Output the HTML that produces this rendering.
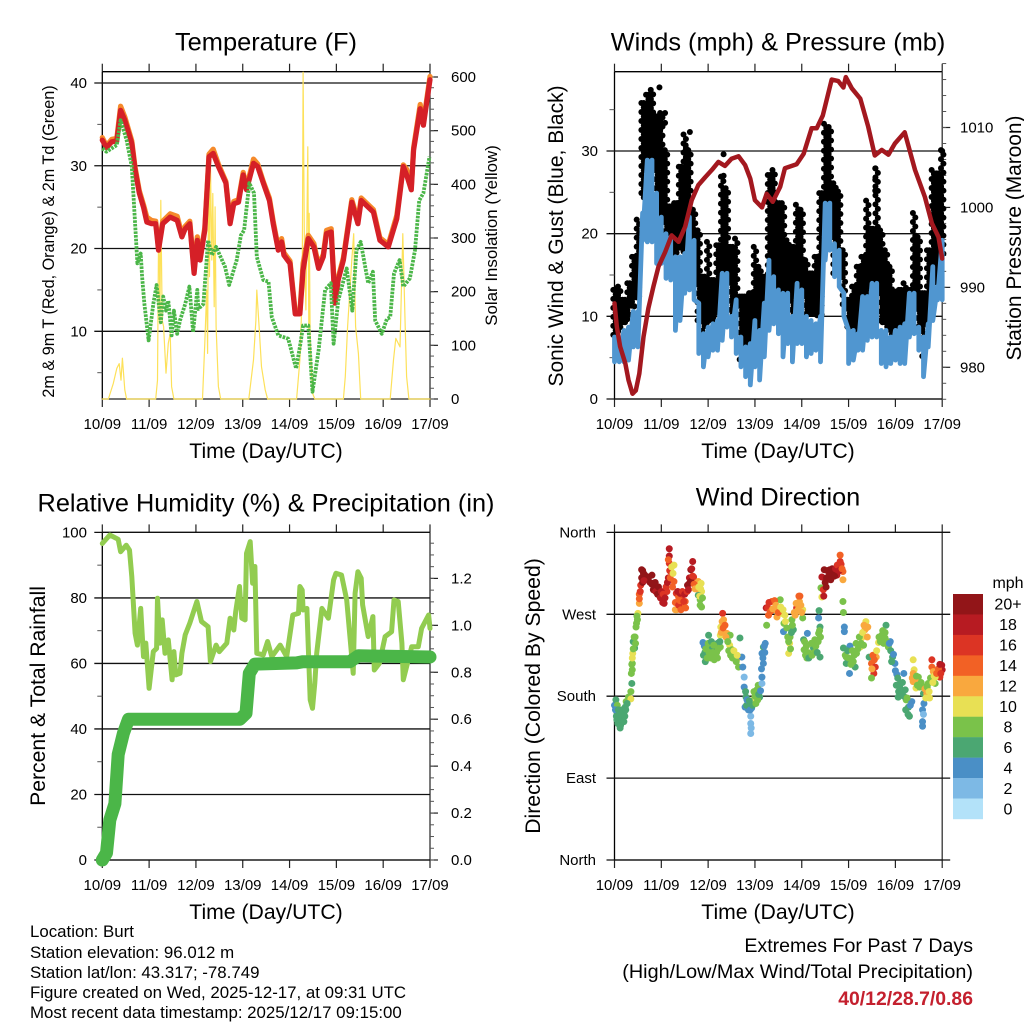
<!DOCTYPE html>
<html lang="en">
<head>
<meta charset="utf-8">
<title>Station Meteogram</title>
<style>
html,body{margin:0;padding:0;background:#fff}
svg{display:block;font-family:"Liberation Sans",sans-serif}
text{fill:#000}
</style>
</head>
<body>
<svg id="chart" width="1024" height="1024" viewBox="0 0 1024 1024" xmlns="http://www.w3.org/2000/svg">
<rect width="1024" height="1024" fill="#fff"/>
<text x="266" y="50.5" font-size="25.4" text-anchor="middle">Temperature (F)</text>
<text x="778" y="50.5" font-size="25.3" text-anchor="middle">Winds (mph) &amp; Pressure (mb)</text>
<text x="266" y="511.5" font-size="25.3" text-anchor="middle">Relative Humidity (%) &amp; Precipitation (in)</text>
<text x="778" y="505.5" font-size="25.3" text-anchor="middle">Wind Direction</text>

<text x="266" y="458" font-size="21.2" text-anchor="middle">Time (Day/UTC)</text>
<text x="778" y="458" font-size="21.2" text-anchor="middle">Time (Day/UTC)</text>
<text x="266" y="919" font-size="21.2" text-anchor="middle">Time (Day/UTC)</text>
<text x="778" y="919" font-size="21.2" text-anchor="middle">Time (Day/UTC)</text>

<text transform="translate(54 241.5) rotate(-90)" font-size="16.2" text-anchor="middle">2m &amp; 9m T (Red, Orange) &amp; 2m Td (Green)</text>
<text transform="translate(497 235.5) rotate(-90)" font-size="16.9" text-anchor="middle">Solar Insolation (Yellow)</text>
<text transform="translate(563 236) rotate(-90)" font-size="21" text-anchor="middle">Sonic Wind &amp; Gust (Blue, Black)</text>
<text transform="translate(1021 238) rotate(-90)" font-size="20.9" text-anchor="middle">Station Pressure (Maroon)</text>
<text transform="translate(45 696) rotate(-90)" font-size="21.2" text-anchor="middle">Percent &amp; Total Rainfall</text>
<text transform="translate(540 696) rotate(-90)" font-size="21.2" text-anchor="middle">Direction (Colored By Speed)</text>

<text x="30" y="937" font-size="16.85">Location: Burt</text>
<text x="30" y="958" font-size="16.85">Station elevation: 96.012 m</text>
<text x="30" y="978" font-size="16.85">Station lat/lon: 43.317; -78.749</text>
<text x="30" y="998" font-size="16.85">Figure created on Wed, 2025-12-17, at 09:31 UTC</text>
<text x="30" y="1018" font-size="16.85">Most recent data timestamp: 2025/12/17 09:15:00</text>

<text x="973" y="952" font-size="19.6" text-anchor="end">Extremes For Past 7 Days</text>
<text x="973" y="978" font-size="19.8" text-anchor="end">(High/Low/Max Wind/Total Precipitation)</text>
<text x="973" y="1005" font-size="19.4" font-weight="bold" text-anchor="end" style="fill:#c4202e">40/12/28.7/0.86</text>

<text x="1008" y="588" font-size="16" text-anchor="middle">mph</text>
</svg>
<script>
const dayLabels = ['10/09','11/09','12/09','13/09','14/09','15/09','16/09','17/09'];

const tempTimes = [0,.09,.2,.31,.39,.48,.63,.7,.79,.88,.95,1.05,1.14,1.2,1.29,1.45,1.6,1.7,1.77,1.87,1.96,2.03,2.09,2.19,2.28,2.37,2.48,2.64,2.73,2.81,2.91,3.01,3.08,3.23,3.32,3.44,3.57,3.65,3.76,3.83,3.88,4.01,4.12,4.22,4.29,4.4,4.52,4.62,4.72,4.79,4.89,4.97,5.04,5.15,5.33,5.46,5.53,5.79,5.93,6.11,6.29,6.43,6.5,6.6,6.65,6.79,6.86,7];
const temp2m = [33.1,32.2,32.9,33,36.7,35.5,32.7,29.5,26.7,25,23.2,23,23,19.8,23,23.8,23.4,21.4,22.4,23,17,21,18.6,22.2,31.1,31.5,29.9,27.9,23,25.4,25.6,28.9,27.1,30.3,29.9,27.9,25.8,23,19.8,20.8,19.2,18.2,12.1,12.1,17.4,21.2,20.2,17.6,19,21.8,22,13.4,16.2,18.6,25.6,23,25.8,24.4,21,20.2,23.6,29.9,28.9,27.1,31.9,36.9,34.9,40.4];
const temp9m = [33.4,32.4,33.2,33.3,37.2,35.9,33,29.8,27,25.3,23.8,23.4,23.3,20.1,23.3,24.2,23.9,21.7,22.7,23.3,17.3,21.4,18.9,22.5,31.4,32,30.2,28.1,23.3,25.7,25.9,29.2,27.4,30.8,30.2,28.1,26.1,23.3,20.1,21.2,19.5,18.5,12.4,12.4,18.2,21.6,20.6,17.9,19.3,22.2,22.4,13.7,16.5,18.9,25.9,23.4,26.1,24.7,21.3,20.5,24,30.1,29.6,27.4,32.2,37.4,35.2,40.8];
const dewTimes = [0,.09,.31,.39,.52,.63,.7,.75,.82,.85,.9,.99,1.09,1.16,1.25,1.3,1.36,1.41,1.48,1.53,1.6,1.66,1.77,1.86,1.94,2.03,2.05,2.16,2.26,2.34,2.43,2.62,2.71,2.87,2.96,3.03,3.14,3.24,3.3,3.44,3.55,3.62,3.76,3.97,4.14,4.22,4.29,4.4,4.49,4.62,4.76,4.88,4.94,5.04,5.22,5.34,5.43,5.52,5.68,5.78,5.83,5.97,6.08,6.15,6.23,6.35,6.43,6.57,6.68,6.77,6.86,6.99];
const dewValues = [32.1,31.7,32.5,35.5,33.1,29.9,23,18.2,19.4,16.6,13.3,8.9,13.3,15.6,11.1,14.2,12.5,13.7,9.5,12.5,9.7,11.3,13.3,15.4,9.9,15,12.7,13.3,21,19.2,20.2,17.8,15.6,18.6,21.6,22.2,27.9,26.7,19,16.2,16,11.7,9.5,9.1,5.5,8.1,10.7,10.7,2.7,7.7,15,15.8,8.5,13.7,17.6,12.5,19.8,20.8,15.8,17.2,11.3,9.7,11.5,11.7,17,18.6,15.4,16.4,19.8,25.8,26.7,31.1];
const solarTimes = [0,.13,.235,.31,.36,.4,.43,.48,.52,1.14,1.18,1.2,1.22,1.23,1.25,1.28,1.31,1.36,1.41,1.45,1.48,1.53,2.14,2.19,2.23,2.25,2.27,2.29,2.31,2.34,2.36,2.39,2.41,2.43,2.48,2.53,3.13,3.23,3.28,3.3,3.35,3.4,3.48,3.53,4.15,4.22,4.27,4.29,4.32,4.35,4.39,4.41,4.42,4.44,4.49,4.54,5.15,5.19,5.24,5.33,5.37,5.41,5.47,5.52,6.15,6.22,6.27,6.36,6.42,6.47,6.5,6.55,7];
const solarValues = [0,0,29,57,66,35,76,17,0,0,35,290,259,140,370,147,135,48,104,122,23,0,0,104,203,85,439,228,445,259,383,172,358,135,23,0,0,73,147,203,135,60,17,0,0,73,197,609,259,166,470,130,346,104,11,0,0,42,135,259,308,135,85,0,0,73,113,97,308,135,42,0,0];

const windTimes = [0,.1,.2,.3,.4,.5,.6,.7,.8,.9,1,1.1,1.2,1.3,1.4,1.5,1.6,1.7,1.8,1.9,2,2.1,2.2,2.3,2.4,2.5,2.6,2.7,2.8,2.9,3,3.1,3.2,3.3,3.4,3.5,3.6,3.7,3.8,3.9,4,4.1,4.2,4.3,4.4,4.5,4.6,4.7,4.8,4.9,5,5.1,5.2,5.3,5.4,5.5,5.6,5.7,5.8,5.9,6,6.1,6.2,6.3,6.4,6.5,6.6,6.7,6.8,6.9,7];
const gustHigh = [13.2,13.6,12,14,17.2,21.7,35.8,36.8,37.4,34.2,34.6,30.1,23.3,23.7,28.1,32,30.1,22.9,20.4,14.8,19,14.4,18.6,26.9,25.5,18.4,19.4,12.4,12.4,12.8,18.4,16,14.8,27.1,27.7,23.7,23.7,19.2,18.4,23.5,22.9,16.8,15.2,17.2,24.9,33.3,32.9,26.1,25.1,18,12,13.6,16,17.2,24,20.6,27.9,20.4,18,16,13,13.2,14,13.2,22.5,19.6,12.8,18,27.7,27.3,30.1];
const gustLow = [7,8,9,9.5,11,12,24,28,28,20,21,20,15,15,18,17,18,14,9,8,9,9,10,13,14,10,11,4,4,5,8,6,10,14,13,13,12,12,10,12,12,10,10,10,10,20,20,15,15,11,8.5,8.5,8,10,11,13,13,9,8.5,7,7.5,7,8,10,11,8,5,9,14,13,17];
const gustExtraTimes = [.96,1.08,1.08,1.52,1.61,2.33,2.33,5.57,5.57,5.57,7];
const gustExtraValues = [37.7,34.6,33.4,30.7,32.3,29.6,27,27.9,26.5,25.2,30];
const sonicHigh = [7.5,7.1,8.3,8.7,10.6,10.6,22.5,28.9,28.9,24.9,22,20,19.6,17.2,17.2,17.6,22,19.2,11.6,7.9,8.7,9.1,9.5,15.2,15.2,10,12,7.5,6.3,6.7,9.5,8.3,11.6,16.8,14.8,13.2,12.8,12.8,10,14,13.2,10,9.5,9.1,10,23.7,23.7,18.8,18,12.8,8.3,8.3,7.9,12.4,12.4,14,14,8.3,8.3,7.5,8.3,8.7,9.1,12.8,12.8,8.7,7.5,9.1,16,13.6,19.2];
const sonicLow = [4.5,4.5,4.5,4.7,6.3,6.3,19.2,19,19,16.4,16.4,14.6,14.4,8.3,9.5,12.8,13.2,12,5.5,3.9,5.1,5.9,5.9,7.1,8.7,7.5,5.5,3.9,2.7,1.7,3.9,2.3,5.1,8.3,9.1,7.9,5.1,6.7,4.5,6.7,6.7,5.1,5.5,5.9,4.5,16.8,18,14.8,13.6,10,4.3,4.7,5.9,5.9,7.1,7.5,7.5,4.3,3.9,4.3,4.7,4.3,4.3,7.5,7.9,5.9,2.7,6.3,9.5,12,12];
const pressureTimes = [0,.05,.12,.23,.3,.385,.455,.53,.62,.725,.83,.94,1.08,1.22,1.37,1.51,1.65,1.79,1.94,2.08,2.22,2.36,2.5,2.65,2.79,2.9,3,3.15,3.25,3.38,3.54,3.64,3.89,4.04,4.21,4.32,4.45,4.64,4.78,4.89,4.94,5.07,5.25,5.42,5.56,5.71,5.85,5.99,6.2,6.42,6.63,6.78,6.92,7];
const pressureValues = [988,985.1,982.6,980.5,978.4,976.7,977.1,979.2,983.8,987.4,990.1,992.6,994.4,996.5,995.7,997.6,1000.9,1002.8,1003.8,1004.7,1005.7,1005.2,1006.1,1006.4,1005.3,1003.6,1000.9,1000,1001.7,1000.7,1002.6,1004.9,1005.4,1006.7,1009.9,1009.9,1011.5,1016,1015.8,1015,1016.3,1014.9,1013.6,1010.1,1006.5,1007.2,1006.6,1008,1009.4,1004.7,1001.3,998,996.3,993.6];

const humidityTimes = [0,.16,.34,.39,.51,.58,.63,.7,.75,.82,.88,.93,1,1.09,1.16,1.18,1.23,1.28,1.34,1.41,1.49,1.53,1.57,1.66,1.7,1.77,1.87,2.02,2.12,2.26,2.31,2.43,2.5,2.66,2.73,2.81,2.85,2.93,2.98,3.05,3.08,3.16,3.21,3.26,3.3,3.44,3.53,3.62,3.8,3.94,4.07,4.19,4.22,4.27,4.29,4.37,4.44,4.49,4.54,4.58,4.69,4.83,4.94,4.99,5.11,5.22,5.36,5.4,5.46,5.53,5.56,5.68,5.78,5.81,5.92,6.04,6.18,6.23,6.32,6.4,6.43,6.5,6.61,6.75,6.82,6.97,7];
const humidityValues = [96.6,99.2,97.9,94.1,96.1,94.6,86.5,69.2,65.6,76.8,62.1,66.2,52.4,63.6,64.6,79.9,66.2,73.3,63.1,67.2,55,63.6,56.5,57,63.1,68.7,72.3,78.9,72.8,71.2,60.6,65.6,63.6,66.2,73.8,70.2,75.8,83.5,73.8,73.3,93.6,97.2,84.5,89.6,63.1,62.6,66.7,62.1,65.6,62.1,74.8,75.3,83.5,82.4,76.3,76.8,48.9,46.3,54,63.1,76.8,73.8,85.5,87.5,87,79.4,57,81.4,88,86,77.9,68.2,74.3,58,60,68.2,69.7,79.4,78.9,66.2,55,59,65.1,65.1,70.7,74.8,70.7];
const precipTimes = [0,.09,.16,.27,.34,.45,.56,2.94,3.07,3.14,3.26,4.15,4.29,5.29,5.47,7];
const precipValues = [0,.03,.17,.24,.45,.54,.6,.6,.625,.795,.835,.84,.845,.845,.87,.865];

const dirTimes = [0,.03,.05,.06,.05,.09,.12,.14,.16,.19,.21,.23,.25,.3,.35,.35,.37,.38,.38,.39,.43,.44,.46,.49,.5,.53,.53,.56,.58,.6,.65,.73,.8,.83,.9,.96,1.01,1.06,1.12,1.15,1.17,1.17,1.17,1.2,1.27,1.27,1.32,1.37,1.4,1.44,1.51,1.33,1.47,1.56,1.6,1.63,1.67,1.69,1.74,1.79,1.85,1.86,1.83,1.79,1.86,
1.89,2.01,1.91,1.94,1.97,2.04,2.08,2.15,2.2,2.26,2.26,2.27,2.31,2.33,2.34,2.4,2.47,2.46,2.51,2.58,2.63,2.68,2.65,2.72,2.74,2.77,2.77,2.81,2.79,2.86,2.91,2.91,2.91,2.93,2.97,2.98,3.07,3.1,3.15,3.15,3.18,3.15,3.22,3.18,
3.24,3.25,3.29,3.36,3.41,3.47,3.54,3.57,3.64,3.62,3.61,3.79,3.82,3.75,3.74,3.72,3.86,3.89,3.95,3.96,4.02,4.02,4.12,4.04,4.05,4.11,4.18,4.25,4.28,4.39,4.36,4.39,4.37,4.36,4.43,4.41,4.46,4.43,4.48,4.53,4.6,4.68,4.75,4.78,4.82,4.82,4.88,4.88,4.88,4.89,4.91,4.91,
4.89,5.03,4.95,4.95,5.02,5.07,5.14,5.17,5.25,5.28,5.35,5.37,5.41,5.32,5.44,5.49,5.57,5.54,5.49,5.59,5.64,5.71,5.78,5.8,5.85,5.89,5.94,5.99,6.03,6.1,6.06,6.18,6.21,6.23,6.28,6.3,6.35,6.38,6.4,6.38,6.44,6.49,6.56,6.6,6.67,6.7,6.73,6.61,6.58,6.6,6.58,6.58,6.78,6.78,6.81,6.85,6.9,6.95,6.99,7,6.85,
.02,.04,.07,.08,.1,.11,.13,.15,.17,.18,.2,.22,.24,.27,.4,.42,.45,.47,.48,.36,.37,.38,.4,
.58,.6,.62,.6,.63,.55,.53,.76,.8,.83,.87,.88,.92,.94,.98,1,1.03,1.04,1.08,1.1,1.13,
1.15,1.18,1.19,1.22,1.25,1.24,1.3,1.3,1.35,1.37,1.4,1.42,1.45,1.48,1.5,1.52,1.55,
1.58,1.6,1.63,1.65,1.67,1.7,1.72,1.76,1.8,1.84,1.82,1.83,1.88,
1.9,1.92,1.93,1.95,1.98,2,2.02,2.05,2.07,2.1,2.12,2.13,2.18,2.2,2.22,2.25,
2.28,2.3,2.32,2.36,2.38,2.42,2.44,2.48,2.52,2.55,2.6,2.62,
2.8,2.82,2.83,2.88,2.9,2.92,2.95,3,3.02,3.04,3.06,3.08,3.12,3.14,3.17,3.2,3.21,
3.27,3.3,3.33,3.38,3.42,3.45,3.5,3.55,3.6,3.65,3.68,3.7,3.72,3.76,3.78,3.8,3.84,3.88,3.92,3.94,3.98,4,
4.06,4.08,4.1,4.13,4.15,4.2,4.22,4.27,4.3,4.33,4.35,4.38,4.4,
4.5,4.55,4.52,4.58,4.62,4.65,4.7,4.72,4.76,4.8,4.84,4.86,4.47,
4.93,4.98,5,5.05,5.08,5.1,5.12,5.16,5.2,5.23,5.27,5.3,5.33,5.38,5.4,
5.5,5.52,5.55,5.6,5.65,5.68,5.73,5.75,5.78,5.82,5.87,5.9,5.92,5.96,
6,6.02,6.05,6.07,6.09,6.12,6.15,6.18,6.22,6.25,6.27,6.32,
6.36,6.38,6.42,6.45,6.47,6.52,6.55,6.6,6.63,6.65,6.68,6.72,6.75,6.8,6.83,6.88,6.92,6.97,6.95];
const dirDegrees = [170,176,163,170,154,158,145,154,165,158,163,168,174,179,177,185,194,209,216,227,233,245,256,264,271,282,292,302,319,311,313,311,313,304,299,295,288,282,295,310,326,342,334,317,324,306,293,289,293,286,284,275,277,302,304,319,328,311,304,306,304,295,286,291,278,
239,247,225,218,231,238,233,223,238,247,234,256,271,264,257,249,247,236,231,225,222,244,212,223,212,201,190,179,168,165,158,150,139,167,176,185,192,179,194,201,216,227,238,234,
277,258,269,284,275,267,286,271,269,260,251,264,253,245,238,227,269,277,284,290,275,266,249,242,231,222,227,233,242,223,249,256,274,266,289,299,297,311,319,310,319,315,313,319,328,335,317,308,284,272,256,251,
233,235,223,216,205,220,212,227,234,244,253,262,256,236,223,216,212,205,200,223,239,247,244,258,234,240,223,216,204,194,179,205,187,176,168,158,174,220,209,196,189,201,192,183,183,194,178,172,165,160,152,147,220,212,207,194,203,201,214,209,201,
165,158,150,165,150,160,148,160,152,165,152,158,165,172,240,245,238,260,268,205,215,222,232,
310,318,315,305,307,295,287,305,303,297,305,295,292,300,288,295,283,292,288,300,305,
330,318,310,322,315,300,283,275,295,280,285,275,295,284,292,277,295,
297,310,306,320,312,303,298,298,300,298,290,280,288,
225,235,228,232,222,238,228,222,240,228,236,220,228,222,232,240,
250,262,255,258,245,240,230,225,222,230,218,225,
185,170,176,175,165,145,170,180,172,187,176,182,186,210,222,235,228,
277,283,273,276,285,280,272,278,275,262,255,245,240,232,250,258,272,282,275,290,280,272,
240,225,235,228,222,238,225,228,235,228,240,252,245,
305,318,300,312,308,320,312,320,324,318,325,320,290,
225,230,222,215,230,218,225,238,232,245,238,250,258,255,245,
210,225,220,230,245,240,252,238,250,240,238,230,218,226,
208,192,200,185,190,183,195,180,165,178,160,170,
200,205,198,202,192,190,195,190,188,178,190,185,200,195,202,205,210,205,215];
const dirSpeeds = [4,6,6,8,6,6,6,6,6,6,6,6,8,8,10,8,6,8,8,10,6,8,8,8,10,12,14,16,20,20,20,20,20,20,20,20,18,18,16,18,16,18,18,14,10,14,16,14,18,16,14,12,14,20,20,20,18,16,14,12,10,10,8,6,8,
4,6,6,6,8,8,6,8,6,10,8,10,16,12,14,12,8,10,8,10,12,6,8,4,4,2,4,6,4,4,2,2,2,4,10,8,8,6,2,4,4,4,4,6,
18,8,14,14,12,12,8,10,10,8,4,8,6,8,10,10,12,16,12,14,10,8,4,6,8,8,10,6,8,6,8,6,6,4,10,8,16,18,20,20,20,20,18,18,16,14,14,12,8,8,4,4,
6,4,8,6,4,8,6,8,10,10,12,10,12,8,6,14,16,16,8,12,10,8,8,6,8,4,6,4,4,6,6,4,6,8,6,6,4,10,10,12,10,8,8,6,12,8,10,4,4,2,4,4,16,14,12,8,14,16,18,18,10,
4,6,6,6,6,6,6,6,6,6,6,6,6,6,6,8,8,8,8,8,8,10,8,
20,20,20,20,18,16,14,20,20,20,20,18,20,20,18,18,18,16,18,16,18,
14,16,14,10,10,14,14,12,18,16,14,14,16,16,18,14,16,
18,18,20,18,16,14,12,12,10,10,10,8,8,
6,4,6,8,8,8,8,8,6,8,8,8,8,8,8,6,
12,12,14,14,12,8,8,8,8,10,8,10,
6,6,4,6,4,2,6,8,8,8,8,6,4,4,4,4,4,
16,16,14,12,14,12,14,10,10,10,8,8,8,8,6,8,12,12,12,14,12,12,
8,8,8,8,6,8,8,8,8,6,8,8,8,
20,20,20,20,20,20,20,18,16,18,16,14,18,
8,6,8,8,8,8,8,8,8,8,8,10,12,12,12,
12,14,14,10,8,8,8,8,8,8,4,6,6,4,
4,6,6,6,6,6,6,6,6,8,6,4,
12,12,12,8,8,8,8,8,12,10,8,10,8,10,10,14,14,16,18];

const legendLabels = ['20+','18','16','14','12','10','8','6','4','2','0'];
const legendColors = ['#921518','#b71b22','#dc3424','#f26125','#f9a83e','#e8e054','#7ac24a','#4ba772','#4a8fc6','#7db9e5','#b3e2f9'];
const directionLabels = ['North','East','South','West','North'];
const directionTicks = [0,90,180,270,360];
const tempTicks = [10,20,30,40];
const tempMinorTicks = [5,15,25,35];
const solarTicks = [0,100,200,300,400,500,600];
const windTicks = [0,10,20,30];
const windMinorTicks = [5,15,25,35];
const pressureTicks = [980,990,1000,1010];
const humidityTicks = [0,20,40,60,80,100];
const humidityMinorTicks = [10,30,50,70,90];
const precipTicks = [0,.2,.4,.6,.8,1,1.2];

const svg = document.getElementById('chart');
const NS = 'http://www.w3.org/2000/svg';
const SIDE = 327.7;
const TOP1 = 71.7, BOT1 = 399, TOP2 = 532.4, BOT2 = 860;
const LEFT1 = 102.3, LEFT2 = 614.5;

function node(tag, attrs, parent) {
  const e = document.createElementNS(NS, tag);
  for (const k in attrs) e.setAttribute(k, attrs[k]);
  (parent || svg).appendChild(e);
  return e;
}
function linear(d0, d1, r0, r1) {
  return v => r0 + (v - d0) * (r1 - r0) / (d1 - d0);
}
function hLine(name, x1, x2, y, color, width) {
  const l = node('line', {x1: x1, x2: x2, y1: y, y2: y, stroke: color, 'stroke-width': width});
  
  
}
function vLine(name, x, y1, y2, color, width) {
  const l = node('line', {x1: x, x2: x, y1: y1, y2: y2, stroke: color, 'stroke-width': width});
  
  
}
function label(name, x, y, str, anchor, size) {
  const t = node('text', {x: x, y: y, 'font-size': size || 15, 'text-anchor': anchor});
  t.textContent = str;
  
  
}
function series(name, times, values, xs, ys, color, width, extra) {
  const pts = times.map((t, i) => xs(t).toFixed(1) + ',' + ys(values[i]).toFixed(1)).join(' ');
  const attrs = Object.assign({points: pts, fill: 'none', stroke: color, 'stroke-width': width, 'stroke-linejoin': 'round', 'stroke-linecap': 'round'}, extra || {});
  const p = node('polyline', attrs);
  
  
}

function frame(left, top, bottom, labelBase, prefix, gridRight) {
  const xs = linear(0, 7, left, left + SIDE);
  dayLabels.forEach((d, i) => {
    const x = xs(i);
    vLine(prefix + '-top-tick', x, top - 8, top, '#222', 1.2);
    vLine(prefix + '-bottom-tick', x, bottom, bottom + 8, '#222', 1.2);
    label(prefix + '-x-tick-label', x, labelBase, d, 'middle');
  });
  hLine(prefix + '-frame-top', left, gridRight, top, '#000', 1.3);
  hLine(prefix + '-frame-bottom', left, left + SIDE, bottom, '#222', 1.3);
  vLine(prefix + '-frame-left', left, top, bottom, '#000', 1.3);
  vLine(prefix + '-frame-right', left + SIDE, top, bottom, '#333', 1.3);
  return xs;
}
function leftAxis(prefix, ys, left, majors, minors, fmt, labelX) {
  majors.forEach((v, i) => {
    hLine(prefix + '-gridline', left - 8, left + SIDE, ys(v), '#111', 1.3);
    label(prefix + '-y-tick-label', labelX, ys(v) + 5, fmt ? fmt[i] : String(v), 'end');
  });
  minors.forEach(v => hLine(prefix + '-y-minor-tick', left - 5, left, ys(v), '#555', 1));
}
function rightAxis(prefix, ys, right, majors, minorStep, dMin, dMax, fmt, labelX) {
  majors.forEach(v => {
    hLine(prefix + '-right-tick', right, right + 8, ys(v), '#222', 1.2);
    label(prefix + '-right-tick-label', labelX, ys(v) + 5, fmt(v), 'start');
  });
  for (let k = Math.ceil(dMin / minorStep); k * minorStep <= dMax; k++) {
    hLine(prefix + '-right-minor-tick', right, right + 4, ys(k * minorStep), '#555', 1);
  }
}

/* Temperature panel */
const xTemp = frame(LEFT1, TOP1, BOT1, 429, 'temperature', LEFT1 + SIDE);
const yTemp = linear(40, 10, 83, 331.3);
const ySolar = linear(0, 600, 399, 77);
leftAxis('temperature', yTemp, LEFT1, tempTicks, tempMinorTicks, null, 87);
rightAxis('solar', ySolar, LEFT1 + SIDE, solarTicks, 20, 0, 600, v => String(v), 451);
series('solar-insolation-line', solarTimes, solarValues, xTemp, ySolar, '#fde15a', 1.2);
series('temperature-9m-line', tempTimes, temp9m, xTemp, yTemp, '#f58a2b', 5.2);
series('temperature-2m-line', tempTimes, temp2m, xTemp, yTemp, '#d52027', 5.2);
series('dew-point-line', dewTimes, dewValues, xTemp, yTemp, '#4bb648', 3.8, {'stroke-dasharray': '2.6 1.1', 'stroke-linecap': 'butt'});

/* Winds panel */
const xWind = frame(LEFT2, TOP1, BOT1, 429, 'winds', LEFT2 + SIDE);
const yWind = linear(0, 30, 399, 151);
const yPress = linear(980, 1010, 367.3, 127.5);
leftAxis('winds', yWind, LEFT2, windTicks, windMinorTicks, null, 598);
rightAxis('pressure', yPress, LEFT2 + SIDE, pressureTicks, 2, 976, 1018, v => String(v), 960);
function gustColumn(t, high, low) {
  const top = yWind(high);
  const bottom = yWind(low);
  let row = 0;
  for (let y = top; y <= bottom; y += 4.5) {
    const dot = node('circle', {cx: xWind(t) + (row % 2 ? 1.2 : -1.2), cy: y, r: 3, fill: '#000'});
    
    
    row++;
  }
}
windTimes.forEach((t, i) => {
  gustColumn(t, gustHigh[i], gustLow[i]);
  if (i < windTimes.length - 1) {
    gustColumn((t + windTimes[i + 1]) / 2, Math.min(gustHigh[i], gustHigh[i + 1]), Math.max(gustLow[i], gustLow[i + 1]));
  }
});
gustExtraTimes.forEach((t, i) => {
  const dot = node('circle', {cx: xWind(t), cy: yWind(gustExtraValues[i]), r: 3, fill: '#000'});
  
  
});
const sonicPoints = [];
windTimes.forEach((t, i) => {
  sonicPoints.push(xWind(t).toFixed(1) + ',' + yWind(sonicHigh[i]).toFixed(1));
  sonicPoints.push(xWind(t).toFixed(1) + ',' + yWind(sonicLow[i]).toFixed(1));
});
const sonicLine = node('polyline', {points: sonicPoints.join(' '), fill: 'none', stroke: '#5096d0', 'stroke-width': 4.8, 'stroke-linejoin': 'round', 'stroke-linecap': 'round'});


series('pressure-line', pressureTimes, pressureValues, xWind, yPress, '#a3181f', 4.5);

/* Humidity panel */
const xHum = frame(LEFT1, TOP2, BOT2, 890, 'humidity', LEFT1 + SIDE);
const yHum = linear(0, 100, BOT2, TOP2);
const yPrecip = linear(0, 1.2, BOT2, 578.4);
leftAxis('humidity', yHum, LEFT1, humidityTicks, humidityMinorTicks, null, 87);
rightAxis('precip', yPrecip, LEFT1 + SIDE, precipTicks, .05, 0, 1.35, v => v.toFixed(1), 451);
series('humidity-line', humidityTimes, humidityValues, xHum, yHum, '#92cc50', 5);
series('precipitation-line', precipTimes, precipValues, xHum, yPrecip, '#4bb648', 13);

/* Direction panel */
const xDir = frame(LEFT2, TOP2, BOT2, 890, 'direction', LEFT2 + SIDE + 8);
const yDir = linear(0, 360, BOT2, TOP2);
directionTicks.forEach((v, i) => {
  hLine('direction-gridline', LEFT2 - 8, LEFT2 + SIDE + 8, yDir(v), '#111', 1.3);
  label('direction-tick-label', 596, yDir(v) + 5, directionLabels[i], 'end');
});
function speedColor(s) {
  const idx = Math.min(10, Math.floor(s / 2));
  return legendColors[10 - idx];
}
dirTimes.forEach((t, i) => {
  const dot = node('circle', {cx: xDir(t), cy: yDir(dirDegrees[i]), r: 3.5, fill: speedColor(dirSpeeds[i])});
  
  
});

/* Legend */
legendLabels.forEach((text, i) => {
  const h = 225 / legendLabels.length;
  const box = node('rect', {x: 953, y: 594 + i * h, width: 30, height: h + 0.2, fill: legendColors[i]});
  
  
  label('legend-label', 1008, 594 + i * h + h / 2 + 5.5, text, 'middle', 16);
});
</script>
</body>
</html>
